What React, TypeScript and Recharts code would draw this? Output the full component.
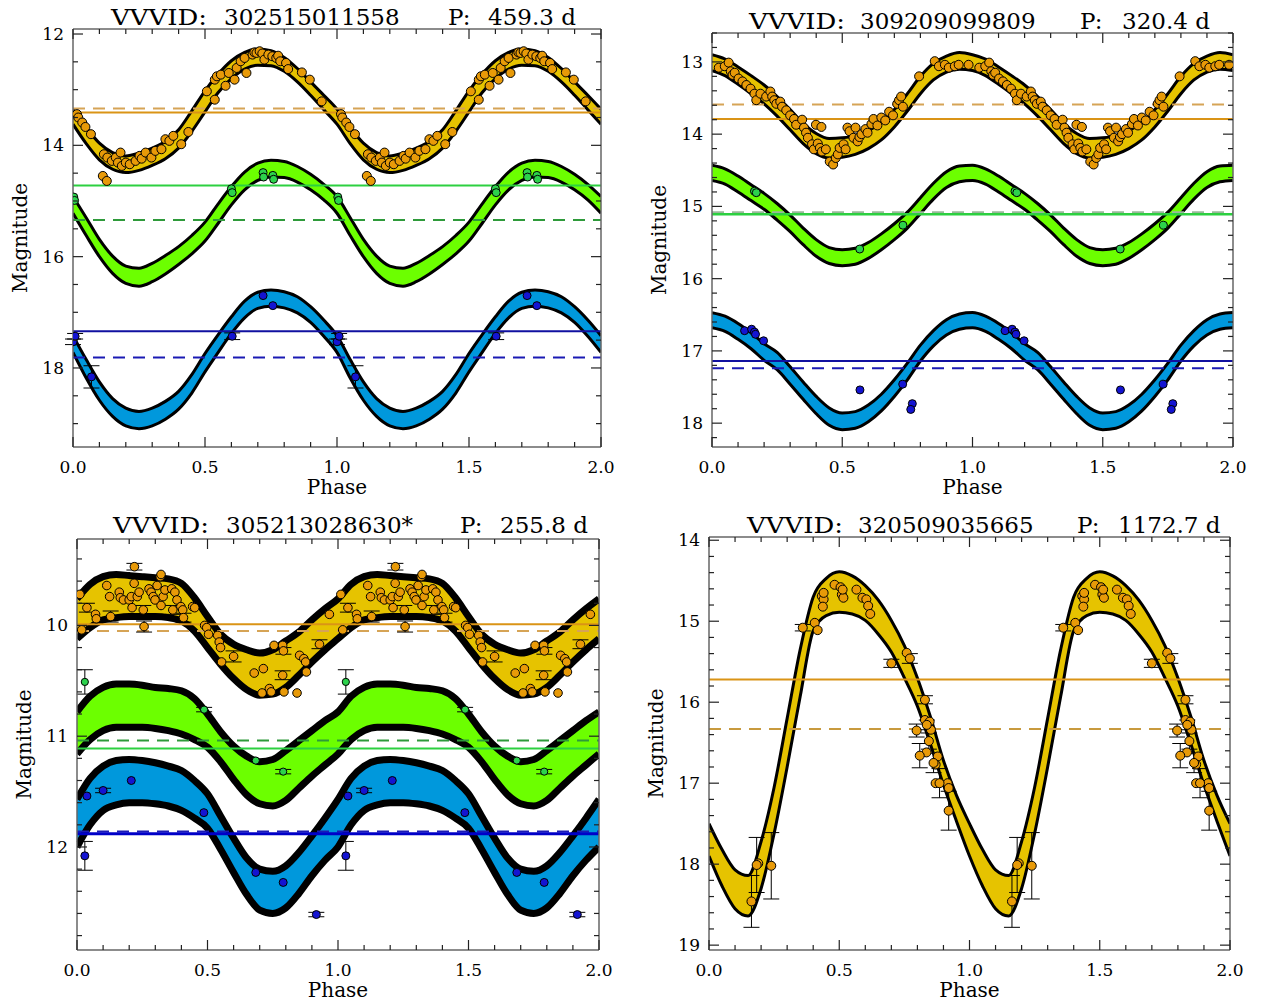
import React from "react";
import {
  ComposedChart,
  Area,
  Scatter,
  ErrorBar,
  XAxis,
  YAxis,
  ReferenceLine,
} from "recharts";

const serif = "'DejaVu Serif', serif";

const yellowFill = "#E6C300";
const greenFill = "#6CFF00";
const blueFill = "#0098DC";
const orangeDot = "#E89A08";
const greenDot = "#2CD24C";
const blueDot = "#1414D2";

// model grid for one cycle; the second cycle repeats it
const curvePhase = [0, 0.05, 0.1, 0.15, 0.2, 0.25, 0.3, 0.35, 0.4, 0.45, 0.5, 0.55, 0.6, 0.65, 0.7, 0.75, 0.8, 0.85, 0.9, 0.95, 1.0];

const phaseMajor = [0, 0.5, 1, 1.5, 2];

// ---- 302515011558 ----
const p1YellowHi = [13.35, 13.68, 13.96, 14.13, 14.19, 14.14, 14.05, 13.93, 13.72, 13.38, 13.02, 12.72, 12.48, 12.33, 12.27, 12.30, 12.42, 12.62, 12.86, 13.10, 13.35];
const p1YellowLo = [13.62, 13.97, 14.26, 14.43, 14.49, 14.45, 14.36, 14.24, 14.05, 13.75, 13.40, 13.05, 12.80, 12.63, 12.56, 12.57, 12.67, 12.86, 13.10, 13.36, 13.62];
const p1GreenHi = [14.92, 15.30, 15.69, 15.99, 16.17, 16.21, 16.12, 15.98, 15.82, 15.62, 15.38, 15.05, 14.74, 14.48, 14.32, 14.27, 14.29, 14.38, 14.52, 14.70, 14.92];
const p1GreenLo = [15.22, 15.62, 16.00, 16.30, 16.48, 16.53, 16.45, 16.31, 16.14, 15.95, 15.72, 15.40, 15.07, 14.80, 14.63, 14.57, 14.58, 14.66, 14.80, 14.98, 15.22];
const p1BlueHi = [17.42, 17.85, 18.25, 18.55, 18.72, 18.78, 18.72, 18.60, 18.42, 18.12, 17.74, 17.40, 17.08, 16.80, 16.64, 16.60, 16.63, 16.72, 16.90, 17.14, 17.42];
const p1BlueLo = [17.72, 18.18, 18.58, 18.87, 19.04, 19.09, 19.04, 18.92, 18.74, 18.45, 18.07, 17.72, 17.38, 17.10, 16.93, 16.89, 16.92, 17.01, 17.18, 17.43, 17.72];
const p1Orange = [
  [0.015, 13.44], [0.02, 13.5], [0.035, 13.59], [0.047, 13.67], [0.068, 13.8],
  [0.113, 14.55], [0.128, 14.64], [0.117, 14.16], [0.13, 14.22], [0.147, 14.28],
  [0.162, 14.22], [0.17, 14.31], [0.18, 14.13], [0.185, 14.37], [0.2, 14.31],
  [0.215, 14.34], [0.237, 14.28], [0.252, 14.19], [0.26, 14.24], [0.275, 14.13],
  [0.297, 14.22], [0.312, 14.1], [0.335, 14.07], [0.35, 13.89], [0.365, 13.92],
  [0.38, 13.83], [0.41, 13.98], [0.437, 13.76], [0.507, 13.03], [0.537, 13.18],
  [0.537, 12.82], [0.545, 12.76], [0.56, 12.73], [0.578, 12.93], [0.59, 12.7],
  [0.612, 12.82], [0.62, 12.61], [0.635, 12.49], [0.65, 12.43], [0.657, 12.7],
  [0.68, 12.37], [0.687, 12.33], [0.695, 12.34], [0.707, 12.31], [0.717, 12.35],
  [0.725, 12.46], [0.74, 12.37], [0.755, 12.4], [0.77, 12.43], [0.777, 12.39],
  [0.785, 12.49], [0.807, 12.52], [0.815, 12.63], [0.867, 12.69], [0.897, 12.82],
  [0.942, 13.21],
];
const p1Green = [
  [0.003, 14.93], [0.006, 14.99], [0.6, 14.78], [0.603, 14.85],
  [0.72, 14.49], [0.722, 14.57], [0.757, 14.54], [0.76, 14.61],
];
const p1Blue = [
  [0.0, 17.53, 0.05], [0.008, 17.43, 0.05], [0.07, 18.16, 0.2],
  [0.603, 17.43, 0.06], [0.72, 16.7], [0.757, 16.88],
];

// ---- 309209099809 ----
const p2YellowHi = [12.90, 12.96, 13.07, 13.19, 13.32, 13.48, 13.66, 13.85, 13.99, 14.06, 14.05, 14.02, 13.95, 13.84, 13.66, 13.44, 13.20, 13.02, 12.92, 12.87, 12.90];
const p2YellowLo = [13.12, 13.19, 13.31, 13.44, 13.58, 13.75, 13.94, 14.13, 14.27, 14.33, 14.32, 14.28, 14.20, 14.08, 13.90, 13.68, 13.44, 13.25, 13.14, 13.10, 13.12];
const p2GreenHi = [14.43, 14.48, 14.58, 14.70, 14.82, 14.96, 15.12, 15.30, 15.46, 15.57, 15.60, 15.58, 15.50, 15.38, 15.24, 15.08, 14.88, 14.68, 14.52, 14.44, 14.43];
const p2GreenLo = [14.64, 14.69, 14.80, 14.92, 15.04, 15.19, 15.35, 15.53, 15.69, 15.79, 15.82, 15.80, 15.72, 15.60, 15.46, 15.30, 15.10, 14.90, 14.74, 14.66, 14.64];
const p2BlueHi = [16.47, 16.52, 16.62, 16.75, 16.90, 17.02, 17.22, 17.43, 17.63, 17.79, 17.86, 17.84, 17.75, 17.60, 17.40, 17.17, 16.92, 16.72, 16.57, 16.49, 16.47];
const p2BlueLo = [16.68, 16.73, 16.84, 16.97, 17.13, 17.26, 17.46, 17.67, 17.87, 18.03, 18.09, 18.07, 17.98, 17.83, 17.63, 17.40, 17.14, 16.93, 16.78, 16.70, 16.68];
const p2Orange = [
  [0.026, 13.08], [0.049, 13.06], [0.064, 13.01], [0.072, 13.13], [0.079, 13.18],
  [0.087, 13.15], [0.102, 13.23], [0.117, 13.27], [0.132, 13.32], [0.148, 13.37],
  [0.163, 13.44], [0.17, 13.53], [0.186, 13.44], [0.208, 13.48], [0.224, 13.41],
  [0.231, 13.48], [0.239, 13.53], [0.247, 13.58], [0.262, 13.55], [0.269, 13.62],
  [0.285, 13.67], [0.3, 13.74], [0.315, 13.79], [0.323, 13.87], [0.346, 13.8],
  [0.353, 13.91], [0.361, 13.98], [0.368, 14.05], [0.384, 14.14], [0.391, 14.21],
  [0.406, 14.13], [0.414, 14.19], [0.422, 14.24], [0.437, 14.21], [0.452, 14.38],
  [0.465, 14.42], [0.475, 14.33], [0.399, 13.87], [0.42, 13.9], [0.483, 14.28],
  [0.49, 14.19], [0.505, 14.14], [0.513, 14.21], [0.52, 13.91], [0.528, 13.96],
  [0.543, 14.05], [0.551, 13.91], [0.559, 14.1], [0.566, 14.04], [0.574, 14.0],
  [0.589, 13.93], [0.597, 13.98], [0.612, 13.86], [0.62, 13.79], [0.635, 13.88],
  [0.65, 13.77], [0.665, 13.81], [0.68, 13.69], [0.695, 13.74], [0.711, 13.58],
  [0.718, 13.53], [0.726, 13.48], [0.733, 13.62], [0.795, 13.2], [0.855, 12.99],
  [0.871, 13.06], [0.894, 13.04], [0.909, 13.08], [0.932, 13.06], [0.947, 13.04],
  [0.985, 13.04],
];
const p2Green = [[0.163, 14.79], [0.17, 14.81], [0.567, 15.59], [0.733, 15.26]];
const p2Blue = [
  [0.125, 16.72], [0.152, 16.7], [0.163, 16.74], [0.167, 16.77], [0.198, 16.86],
  [0.568, 17.54], [0.732, 17.46], [0.769, 17.73], [0.763, 17.81],
];

// ---- 305213028630* ----
const p3YellowHi = [9.76, 9.63, 9.56, 9.54, 9.55, 9.56, 9.57, 9.58, 9.62, 9.75, 9.92, 10.08, 10.17, 10.22, 10.25, 10.22, 10.14, 10.06, 9.95, 9.85, 9.76];
const p3YellowLo = [10.12, 10.02, 9.95, 9.93, 9.92, 9.92, 9.92, 9.93, 9.96, 10.05, 10.20, 10.35, 10.48, 10.58, 10.63, 10.62, 10.56, 10.45, 10.33, 10.22, 10.12];
const p3GreenHi = [10.78, 10.64, 10.56, 10.53, 10.53, 10.54, 10.56, 10.57, 10.59, 10.66, 10.80, 10.96, 11.09, 11.18, 11.23, 11.21, 11.13, 11.04, 10.95, 10.86, 10.78];
const p3GreenLo = [11.16, 11.03, 10.95, 10.92, 10.92, 10.92, 10.93, 10.95, 10.98, 11.03, 11.10, 11.23, 11.39, 11.53, 11.61, 11.63, 11.58, 11.47, 11.36, 11.26, 11.16];
const p3BlueHi = [11.57, 11.38, 11.27, 11.22, 11.21, 11.22, 11.24, 11.27, 11.31, 11.40, 11.52, 11.72, 11.92, 12.10, 12.20, 12.22, 12.17, 12.05, 11.90, 11.74, 11.57];
const p3BlueLo = [12.00, 11.80, 11.67, 11.62, 11.60, 11.60, 11.61, 11.63, 11.67, 11.74, 11.83, 12.02, 12.23, 12.43, 12.57, 12.60, 12.55, 12.42, 12.26, 12.12, 12.00];
const p3Orange = [
  [0.011, 9.72], [0.018, 10.04], [0.038, 9.84, 0.04], [0.071, 9.9], [0.074, 9.94],
  [0.114, 9.64], [0.125, 9.74], [0.129, 9.92, 0.05], [0.162, 9.7], [0.166, 9.75],
  [0.178, 9.77], [0.2, 9.77], [0.208, 9.74], [0.211, 9.84], [0.22, 9.47, 0.03],
  [0.219, 9.62], [0.231, 9.74], [0.238, 9.7], [0.254, 9.86, 0.04], [0.257, 10.01, 0.05],
  [0.276, 9.67], [0.284, 9.7], [0.292, 9.74], [0.299, 9.77], [0.307, 9.64],
  [0.319, 9.56], [0.322, 9.54], [0.322, 9.82], [0.33, 9.74], [0.337, 9.68],
  [0.363, 9.67], [0.367, 9.86, 0.04], [0.375, 9.7], [0.383, 9.77], [0.398, 9.83],
  [0.405, 9.86], [0.408, 9.93, 0.04], [0.443, 9.83], [0.451, 9.84], [0.489, 10.0],
  [0.497, 10.02], [0.504, 10.08], [0.539, 10.09], [0.545, 10.15], [0.55, 10.2],
  [0.554, 10.33], [0.6, 10.28, 0.05], [0.679, 10.43], [0.714, 10.39], [0.709, 10.61],
  [0.737, 10.57], [0.744, 10.6], [0.755, 10.18], [0.788, 10.18], [0.791, 10.23, 0.03],
  [0.788, 10.45, 0.04], [0.793, 10.6], [0.843, 10.61], [0.853, 10.27], [0.869, 10.3],
  [0.876, 10.33], [0.879, 10.42], [0.929, 10.17, 0.04], [0.967, 9.9],
];
const p3Green = [[0.03, 10.51, 0.11], [0.487, 10.76, 0.02], [0.685, 11.22], [0.79, 11.32, 0.02]];
const p3Blue = [
  [0.038, 11.54], [0.1, 11.49, 0.02], [0.208, 11.4], [0.486, 11.69],
  [0.03, 12.08, 0.13], [0.685, 12.23], [0.79, 12.32], [0.917, 12.61, 0.02],
];

// ---- 320509035665 ----
const p4YellowHi = [17.50, 17.82, 18.07, 18.14, 17.72, 17.05, 16.20, 15.35, 14.70, 14.47, 14.39, 14.44, 14.56, 14.74, 14.99, 15.30, 15.70, 16.18, 16.72, 17.15, 17.50];
const p4YellowLo = [17.90, 18.27, 18.55, 18.64, 18.30, 17.62, 16.80, 15.93, 15.12, 14.93, 14.89, 14.91, 14.99, 15.16, 15.38, 15.70, 16.05, 16.52, 17.02, 17.47, 17.90];
const p4Orange = [
  [0.36, 15.08, 0.04], [0.406, 15.02], [0.417, 15.11], [0.433, 14.69], [0.44, 14.73],
  [0.437, 14.82], [0.44, 14.65], [0.482, 14.55], [0.505, 14.58], [0.51, 14.67],
  [0.516, 14.71], [0.513, 14.61], [0.566, 14.61], [0.589, 14.71], [0.604, 14.73],
  [0.611, 14.81], [0.619, 14.91], [0.7, 15.52, 0.05], [0.759, 15.39], [0.771, 15.46, 0.06],
  [0.829, 15.97, 0.05], [0.797, 16.35, 0.08], [0.829, 16.22], [0.836, 16.28, 0.06], [0.847, 16.24],
  [0.852, 16.34], [0.809, 16.66, 0.15], [0.835, 16.62], [0.844, 16.48, 0.1], [0.862, 16.75, 0.12],
  [0.87, 17.0], [0.885, 17.0, 0.18], [0.878, 16.67], [0.87, 16.77], [0.916, 17.0],
  [0.92, 17.06], [0.92, 17.34, 0.24], [0.163, 18.46, 0.32], [0.183, 18.01, 0.34], [0.189, 17.99],
  [0.239, 18.02, 0.41],
];

type Pt = number[];
type Box = { left: number; top: number; right: number; bottom: number };
type Panel = {
  id: string;
  period: string;
  box: Box;
  domain: [number, number];
  yMajor: number[];
  yMinorStep: number;
  yMinorFrom: number;
  yMinorTo: number;
  bands: { hi: number[]; lo: number[]; fill: string }[];
  bandStroke: number;
  hlines: { y: number; color: string; dashed?: boolean; width?: number }[];
  points: { pts: Pt[]; color: string; r: number }[];
  titleX: [number, number, number, number];
  titleY: number;
};

const panels: Panel[] = [
  {
    id: "302515011558",
    period: "459.3 d",
    box: { left: 73, top: 29, right: 601, bottom: 447 },
    domain: [11.91, 19.42],
    yMajor: [12, 14, 16, 18],
    yMinorStep: 0.5,
    yMinorFrom: 12,
    yMinorTo: 19,
    bands: [
      { hi: p1YellowHi, lo: p1YellowLo, fill: yellowFill },
      { hi: p1GreenHi, lo: p1GreenLo, fill: greenFill },
      { hi: p1BlueHi, lo: p1BlueLo, fill: blueFill },
    ],
    bandStroke: 3,
    hlines: [
      { y: 13.34, color: "#D6A456", dashed: true },
      { y: 13.41, color: "#DA9416" },
      { y: 14.72, color: "#2CD040" },
      { y: 15.34, color: "#2E9A3A", dashed: true },
      { y: 17.34, color: "#1010A0" },
      { y: 17.81, color: "#1A1AB4", dashed: true },
    ],
    points: [
      { pts: p1Orange, color: orangeDot, r: 4.5 },
      { pts: p1Green, color: greenDot, r: 4 },
      { pts: p1Blue, color: blueDot, r: 4 },
    ],
    titleX: [111, 224, 448, 488],
    titleY: 25,
  },
  {
    id: "309209099809",
    period: "320.4 d",
    box: { left: 712, top: 33, right: 1233, bottom: 447 },
    domain: [12.6, 18.33],
    yMajor: [13, 14, 15, 16, 17, 18],
    yMinorStep: 0.2,
    yMinorFrom: 12.6,
    yMinorTo: 18.2,
    bands: [
      { hi: p2YellowHi, lo: p2YellowLo, fill: yellowFill },
      { hi: p2GreenHi, lo: p2GreenLo, fill: greenFill },
      { hi: p2BlueHi, lo: p2BlueLo, fill: blueFill },
    ],
    bandStroke: 3,
    hlines: [
      { y: 13.59, color: "#D6A456", dashed: true },
      { y: 13.79, color: "#DA9416" },
      { y: 15.08, color: "#9AB89A", dashed: true },
      { y: 15.11, color: "#2CD040", width: 2.5 },
      { y: 17.14, color: "#1010A0" },
      { y: 17.24, color: "#1A1AB4", dashed: true },
    ],
    points: [
      { pts: p2Orange, color: orangeDot, r: 4.5 },
      { pts: p2Green, color: greenDot, r: 4 },
      { pts: p2Blue, color: blueDot, r: 4 },
    ],
    titleX: [749, 860, 1080, 1122],
    titleY: 29,
  },
  {
    id: "305213028630*",
    period: "255.8 d",
    box: { left: 77, top: 539, right: 599, bottom: 950 },
    domain: [9.22, 12.93],
    yMajor: [10, 11, 12],
    yMinorStep: 0.2,
    yMinorFrom: 9.4,
    yMinorTo: 12.8,
    bands: [
      { hi: p3YellowHi, lo: p3YellowLo, fill: yellowFill },
      { hi: p3GreenHi, lo: p3GreenLo, fill: greenFill },
      { hi: p3BlueHi, lo: p3BlueLo, fill: blueFill },
    ],
    bandStroke: 7,
    hlines: [
      { y: 9.99, color: "#DA9416" },
      { y: 10.05, color: "#D6A456", dashed: true },
      { y: 11.04, color: "#2E9A3A", dashed: true },
      { y: 11.11, color: "#2CD040" },
      { y: 11.86, color: "#1A1AB4", dashed: true },
      { y: 11.88, color: "#0000C8", width: 3 },
    ],
    points: [
      { pts: p3Orange, color: orangeDot, r: 4.3 },
      { pts: p3Green, color: greenDot, r: 3.6 },
      { pts: p3Blue, color: blueDot, r: 4 },
    ],
    titleX: [113, 226, 460, 500],
    titleY: 533,
  },
  {
    id: "320509035665",
    period: "1172.7 d",
    box: { left: 709, top: 537, right: 1230, bottom: 950 },
    domain: [13.96, 19.06],
    yMajor: [14, 15, 16, 17, 18, 19],
    yMinorStep: 0.2,
    yMinorFrom: 14,
    yMinorTo: 19,
    bands: [{ hi: p4YellowHi, lo: p4YellowLo, fill: yellowFill }],
    bandStroke: 3,
    hlines: [
      { y: 15.72, color: "#DA9416" },
      { y: 16.33, color: "#C89A3E", dashed: true },
    ],
    points: [{ pts: p4Orange, color: orangeDot, r: 4.5 }],
    titleX: [747, 858, 1077, 1118],
    titleY: 533,
  },
];

const steps = (a: number, b: number, s: number) => {
  const out: number[] = [];
  for (let v = a; v <= b + 1e-9; v += s) out.push(Math.round(v * 1000) / 1000);
  return out;
};

const phaseTicks = steps(0, 2, 0.1);

// inward ticks on all four sides, labels on bottom and left only
const frameTick =
  (side: string, majors: number[], label?: (v: number) => string) =>
  (props: any) => {
    const { x, y, payload } = props;
    const v = payload.value;
    const isMajor = majors.some((m) => Math.abs(m - v) < 1e-6);
    const len = isMajor ? 10 : 5;
    let x2 = x;
    let y2 = y;
    if (side === "bottom") y2 = y - len;
    if (side === "top") y2 = y + len;
    if (side === "left") x2 = x + len;
    if (side === "right") x2 = x - len;
    return (
      <g>
        <line x1={x} y1={y} x2={x2} y2={y2} stroke="#222" strokeWidth={1.2} />
        {isMajor && label && side === "bottom" && (
          <text x={x} y={y + 20} dy="0.35em" textAnchor="middle" fontFamily={serif} fontSize={17} fill="#000">
            {label(v)}
          </text>
        )}
        {isMajor && label && side === "left" && (
          <text x={x - 9} y={y} dy="0.35em" textAnchor="end" fontFamily={serif} fontSize={17} fill="#000">
            {label(v)}
          </text>
        )}
      </g>
    );
  };

const dot = (fill: string, r: number) => (p: any) =>
  <circle cx={p.cx} cy={p.cy} r={r} fill={fill} stroke="#000" strokeWidth={1} />;

// two cycles of the folded model, one row per phase
function buildRows(panel: Panel) {
  const rows: any[] = [];
  [0, 1].forEach((k) => {
    curvePhase.forEach((ph, i) => {
      if (k === 1 && i === 0) return;
      const row: any = { phase: ph + k };
      panel.bands.forEach((b, j) => {
        row["b" + j] = [b.hi[i], b.lo[i]];
      });
      rows.push(row);
    });
  });
  return rows;
}

const twoCycles = (pts: Pt[]) =>
  [0, 1].flatMap((k) => pts.map((p) => ({ phase: p[0] + k, mag: p[1], err: p[2] ?? 0 })));

const frameLine = { stroke: "#666", strokeWidth: 1.5 };

const mTop = 15;
const mRight = 22;

function LightCurve({ panel }: { panel: Panel }) {
  const { box } = panel;
  const yAxisW = 60;
  const xAxisH = 50;
  const width = box.right - box.left + yAxisW + 1 + mRight;
  const height = box.bottom - box.top + xAxisH + 1 + mTop;
  const yTicks = Array.from(new Set([...steps(panel.yMinorFrom, panel.yMinorTo, panel.yMinorStep), ...panel.yMajor])).sort((a, b) => a - b);
  const rows = buildRows(panel);
  return (
    <div style={{ position: "absolute", left: box.left - yAxisW, top: box.top - 1 - mTop }}>
      <ComposedChart width={width} height={height} data={rows} margin={{ top: mTop, right: mRight, bottom: 0, left: 0 }}>
        <XAxis
          dataKey="phase"
          type="number"
          domain={[0, 2]}
          allowDataOverflow
          ticks={phaseTicks}
          interval={0}
          height={xAxisH}
          tickSize={0}
          tickMargin={0}
          tickLine={false}
          axisLine={frameLine}
          tick={frameTick("bottom", phaseMajor, (v) => v.toFixed(1))}
        />
        <XAxis
          xAxisId="top"
          orientation="top"
          dataKey="phase"
          type="number"
          domain={[0, 2]}
          allowDataOverflow
          ticks={phaseTicks}
          interval={0}
          height={1}
          tickSize={0}
          tickMargin={0}
          tickLine={false}
          axisLine={frameLine}
          tick={frameTick("top", phaseMajor)}
        />
        <YAxis
          type="number"
          domain={panel.domain}
          reversed
          allowDataOverflow
          ticks={yTicks}
          interval={0}
          width={yAxisW}
          tickSize={0}
          tickMargin={0}
          tickLine={false}
          axisLine={frameLine}
          tick={frameTick("left", panel.yMajor, (v) => String(v))}
        />
        <YAxis
          yAxisId="right"
          orientation="right"
          type="number"
          domain={panel.domain}
          reversed
          allowDataOverflow
          ticks={yTicks}
          interval={0}
          width={1}
          tickSize={0}
          tickMargin={0}
          tickLine={false}
          axisLine={frameLine}
          tick={frameTick("right", panel.yMajor)}
        />
        {panel.bands.map((b, j) => (
          <Area
            key={"band" + j}
            type="monotone"
            dataKey={"b" + j}
            fill={b.fill}
            fillOpacity={1}
            stroke="#000"
            strokeWidth={panel.bandStroke}
            dot={false}
            activeDot={false}
            isAnimationActive={false}
          />
        ))}
        {panel.hlines.map((h, j) => (
          <ReferenceLine
            key={"h" + j}
            y={h.y}
            stroke={h.color}
            strokeWidth={h.width ?? 2}
            strokeDasharray={h.dashed ? "12 8" : undefined}
          />
        ))}
        {panel.points.flatMap((s, j) => {
          const all = twoCycles(s.pts);
          const plain = all.filter((p) => p.err === 0);
          const withErr = all.filter((p) => p.err > 0);
          const out = [];
          if (plain.length)
            out.push(
              <Scatter key={"s" + j} data={plain} dataKey="mag" shape={dot(s.color, s.r)} isAnimationActive={false} />
            );
          if (withErr.length)
            out.push(
              <Scatter key={"e" + j} data={withErr} dataKey="mag" shape={dot(s.color, s.r)} isAnimationActive={false}>
                <ErrorBar dataKey="err" direction="y" width={8} stroke="#000" strokeWidth={1} />
              </Scatter>
            );
          return out;
        })}
      </ComposedChart>
    </div>
  );
}

function Captions({ panel }: { panel: Panel }) {
  const { box, titleX, titleY } = panel;
  const midX = (box.left + box.right) / 2;
  const midY = (box.top + box.bottom) / 2;
  const t = { fontFamily: serif, fontSize: 23, fill: "#000" };
  const a = { fontFamily: serif, fontSize: 20, fill: "#000" };
  return (
    <g>
      <text x={titleX[0]} y={titleY} textLength={96} lengthAdjust="spacingAndGlyphs" {...t}>VVVID:</text>
      <text x={titleX[1]} y={titleY} {...t}>{panel.id}</text>
      <text x={titleX[2]} y={titleY} {...t}>P:</text>
      <text x={titleX[3]} y={titleY} {...t}>{panel.period}</text>
      <text x={midX} y={box.bottom + 47} textAnchor="middle" {...a}>Phase</text>
      <text
        x={box.left - 53}
        y={midY}
        textAnchor="middle"
        dominantBaseline="central"
        transform={`rotate(-90 ${box.left - 53} ${midY})`}
        {...a}
      >
        Magnitude
      </text>
    </g>
  );
}

export default function App() {
  return (
    <div style={{ position: "absolute", left: 0, top: 0, width: 1262, height: 1008, background: "#fff" }}>
      {panels.map((p) => (
        <LightCurve key={p.id} panel={p} />
      ))}
      <svg width={1262} height={1008} style={{ position: "absolute", left: 0, top: 0, pointerEvents: "none" }}>
        {panels.map((p) => (
          <Captions key={p.id} panel={p} />
        ))}
      </svg>
    </div>
  );
}
